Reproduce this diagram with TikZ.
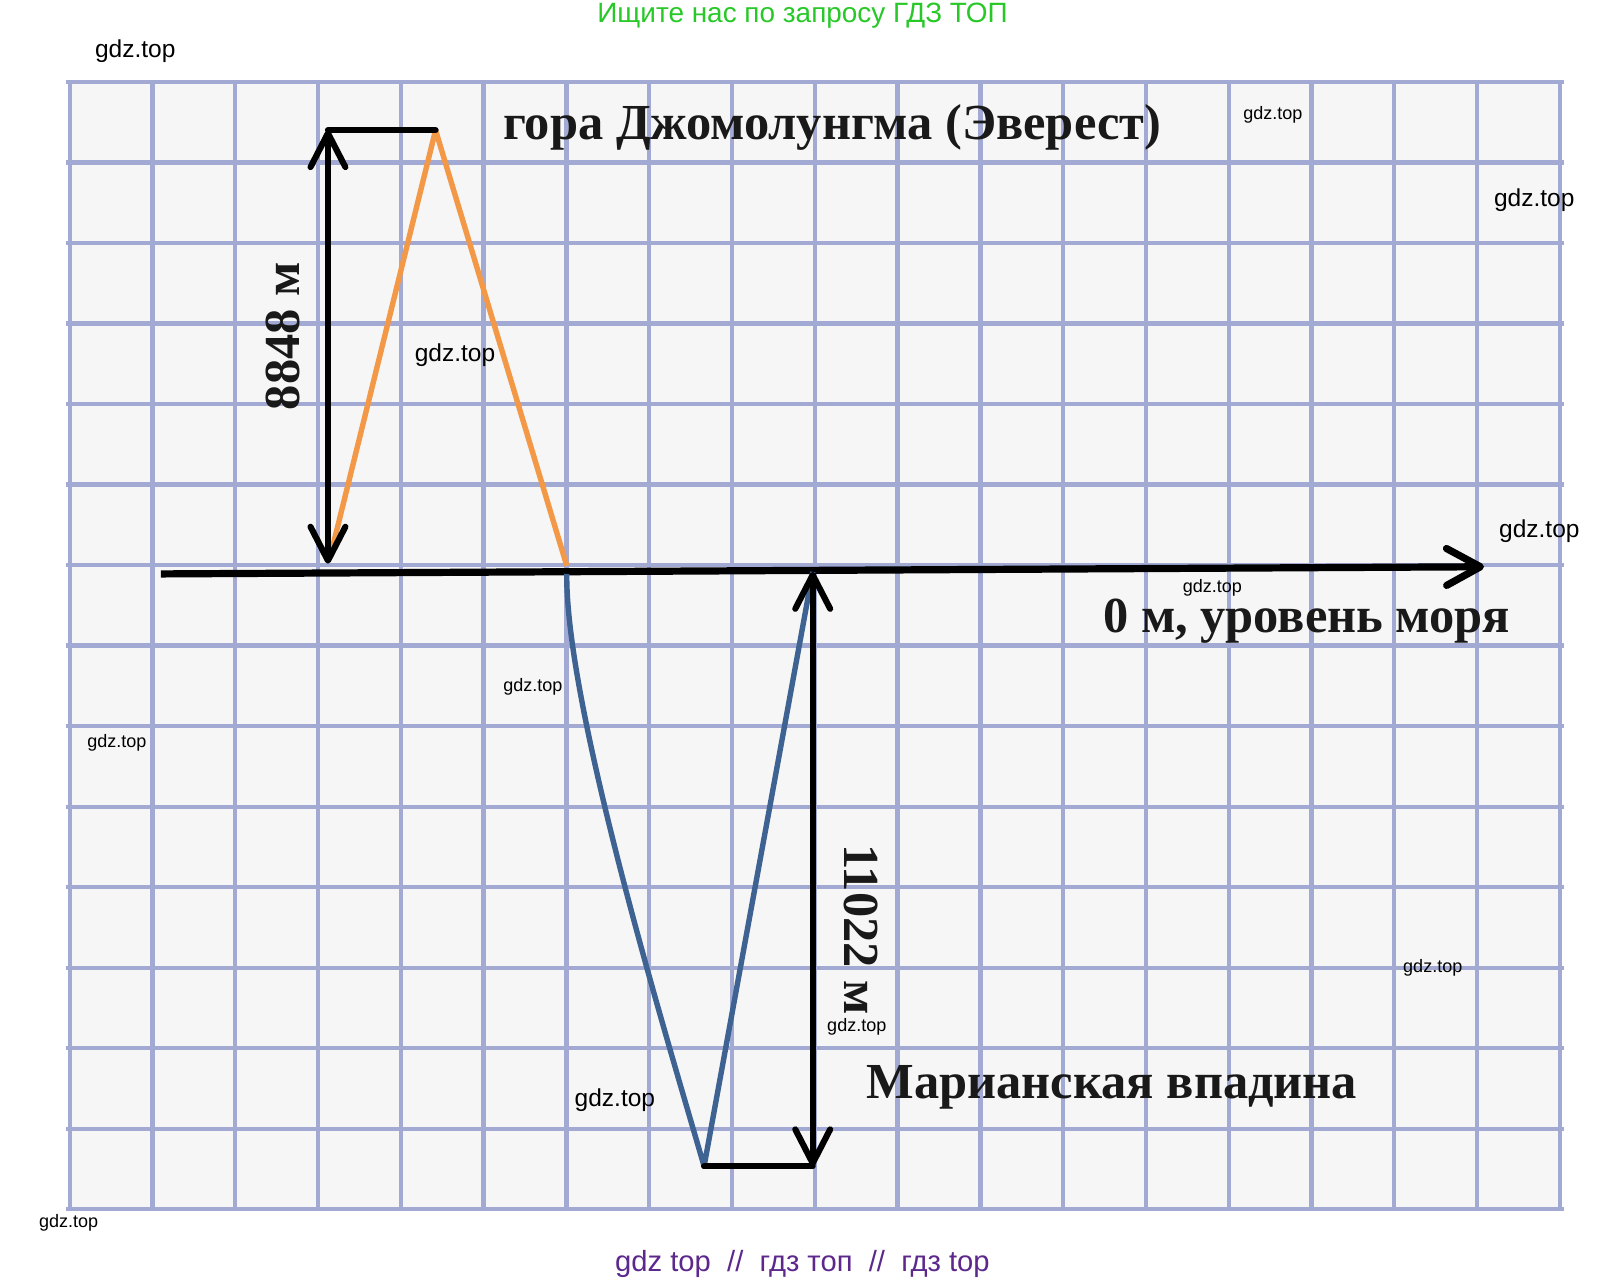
\documentclass[tikz,border=0pt]{standalone}
\usepackage{fontspec}
\setmainfont{Liberation Serif}
\newfontfamily\wmfont{Liberation Sans}
\usetikzlibrary{arrows.meta}
\definecolor{gridblue}{RGB}{162,170,212}
\definecolor{paper}{RGB}{246,246,246}
\definecolor{peakorange}{RGB}{242,152,70}
\definecolor{trenchblue}{RGB}{62,98,145}
\definecolor{adgreen}{RGB}{40,200,40}
\definecolor{adpurple}{RGB}{92,40,140}
\tikzset{
    gridline/.style={draw=gridblue, line width=1.2pt},
    levelarrow/.style={-{Straight Barb[length=3.3mm, width=3.6mm, round]}, line width=2pt, draw=black},
    dimarrow/.style={{Straight Barb[length=3.3mm, width=3.4mm, round]}-{Straight Barb[length=3.3mm, width=3.4mm, round]},
        line width=1.7pt, draw=black},
    dimbar/.style={line width=1.7pt, draw=black, line cap=round},
    mountain/.style={draw=peakorange, line width=1.5pt, line join=round},
    trench/.style={draw=trenchblue, line width=1.5pt, line join=round},
    bigtext/.style={font=\fontsize{14}{16}\selectfont\bfseries, text=black!90, inner sep=0pt},
    wmbig/.style={font=\wmfont\fontsize{6.8}{8}\selectfont, inner sep=0pt},
    wmsmall/.style={font=\wmfont\fontsize{5}{6}\selectfont, inner sep=0pt},
    adline/.style={font=\wmfont\fontsize{7.75}{9}\selectfont, inner sep=0pt}
}

\begin{document}
\begin{tikzpicture}[x=0.01cm, y=-0.01cm]
    \useasboundingbox (0,0) rectangle (1568,1252);

    % squared paper
    \fill[paper] (68,80) rectangle (1524,1180);
    \foreach \i in {0,...,18}
        \draw[gridline] (68+80.78*\i,78) -- (68+80.78*\i,1182);
    \foreach \j in {0,...,14}
        \draw[gridline] (64,80+78.57*\j) -- (1526,80+78.57*\j);

    % points
    \coordinate (sl west) at (157,560);
    \coordinate (sl east) at (1448,553);
    \coordinate (ev base) at (320,550);
    \coordinate (ev top) at (320,127);
    \coordinate (ev peak) at (425,127);
    \coordinate (ev left) at (323,540);
    \coordinate (ev right) at (553,552);
    \coordinate (mt left) at (553,560);
    \coordinate (mt deep) at (687,1138);
    \coordinate (mt top) at (793,558);
    \coordinate (mt bottom) at (793,1138);

    % sea level
    \draw[levelarrow] (sl west) -- (sl east);

    % Everest
    \draw[mountain] (ev left) -- (ev peak) -- (ev right);
    \draw[dimbar] (ev top) -- (ev peak);
    \draw[dimarrow] (ev base) -- (ev top);

    % Mariana trench
    \draw[trench] (mt left) .. controls (552,690) and (650,1010) .. (mt deep) -- (mt top);
    \draw[dimbar] (mt deep) -- (mt bottom);
    \draw[dimarrow] (mt top) -- (mt bottom);

    % labels
    \node[bigtext] (everest) at (812,124) {гора Джомолунгма (Эверест)};
    \node[bigtext, anchor=base] (sealevel) at (1275,617) {0 м, уровень моря};
    \node[bigtext] (mariana) at (1085,1061) {Марианская впадина};
    \node[bigtext, rotate=90] (height) at (276,328) {8848 м};
    \node[bigtext, rotate=-90] (depth) at (840,907) {11022 м};

    % site marks
    \node[adline, text=adgreen] (adtop) at (783,15) {Ищите нас по запросу ГДЗ ТОП};
    \node[adline, font=\wmfont\fontsize{8.1}{9}\selectfont, text=adpurple] (adbottom) at (783,1233)
        {gdz top\ \ //\ \ гдз топ\ \ //\ \ гдз top};
    \node[wmbig] (wm1) at (132,50) {gdz.top};
    \node[wmbig] (wm2) at (1497,195) {gdz.top};
    \node[wmbig] (wm3) at (444,347) {gdz.top};
    \node[wmbig] (wm4) at (1502,518) {gdz.top};
    \node[wmbig] (wm5) at (600,1073) {gdz.top};
    \node[wmsmall] (wm6) at (1242,112) {gdz.top};
    \node[wmsmall] (wm7) at (1183,574) {gdz.top};
    \node[wmsmall] (wm8) at (520,670) {gdz.top};
    \node[wmsmall] (wm9) at (114,725) {gdz.top};
    \node[wmsmall] (wm10) at (1398,944) {gdz.top};
    \node[wmsmall] (wm11) at (836,1002) {gdz.top};
    \node[wmsmall] (wm12) at (67,1193) {gdz.top};
\end{tikzpicture}
\end{document}
